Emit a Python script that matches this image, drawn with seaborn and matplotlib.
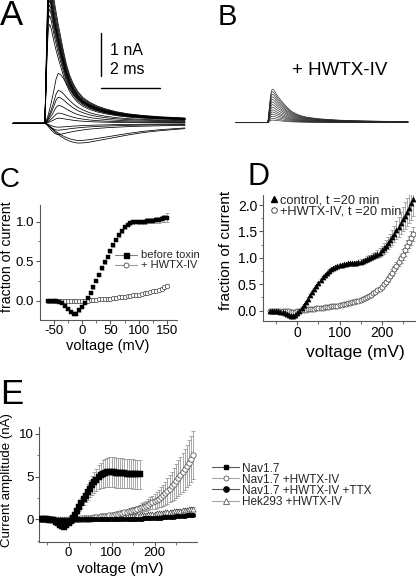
import numpy as np
import pandas as pd
import matplotlib
matplotlib.use("Agg")
import matplotlib.pyplot as plt
from matplotlib.lines import Line2D
from matplotlib.ticker import MultipleLocator
import seaborn as sns

# ---------------- data ----------------
# Panels A/B: whole-cell current traces (time in ms, normalised waveform shapes)
trace_t = [0, 1.08, 1.11, 1.14, 1.17, 1.20, 1.23, 1.26, 1.30, 1.35, 1.40, 1.46, 1.53, 1.61,
           1.70, 1.80, 1.92, 2.05, 2.2, 2.38, 2.6, 2.85, 3.15, 3.5, 3.9, 4.4, 5.0, 5.83]
fast_shape = [0, 0, 0.25, 0.55, 0.8, 0.95, 1.0, 0.99, 0.95, 0.88, 0.81, 0.74, 0.66, 0.58,
              0.49, 0.40, 0.32, 0.26, 0.21, 0.17, 0.14, 0.115, 0.095, 0.077, 0.063, 0.052, 0.043, 0.035]
slow_shape = [0, 0, 0.03, 0.07, 0.12, 0.18, 0.25, 0.32, 0.42, 0.55, 0.7, 0.88, 0.99, 0.97,
              0.9, 0.8, 0.69, 0.58, 0.48, 0.4, 0.32, 0.26, 0.21, 0.17, 0.14, 0.12, 0.1, 0.08]
inward_early = [0, 0, 0.05, 0.12, 0.2, 0.3, 0.4, 0.5, 0.62, 0.75, 0.87, 0.96, 1.0, 0.98,
                0.93, 0.87, 0.8, 0.73, 0.66, 0.59, 0.52, 0.46, 0.4, 0.35, 0.3, 0.26, 0.22, 0.19]
inward_late = [0, 0, 0.02, 0.05, 0.08, 0.12, 0.16, 0.2, 0.26, 0.33, 0.4, 0.48, 0.56, 0.65,
               0.74, 0.82, 0.9, 0.96, 1.0, 0.99, 0.95, 0.88, 0.8, 0.7, 0.59, 0.47, 0.37, 0.27]
a_fast_amp = [3.5, 3.35, 3.2, 3.1, 3.0, 2.95, 2.9, 2.85, 2.75, 2.65, 2.5, 2.3]
a_slow_amp = [1.17, 0.77, 0.61, 0.42, 0.24, 0.12]
a_in_early_amp = [-0.09, -0.16, -0.26]
a_in_late_amp = [-0.40, -0.46]
b_amp = [0.78, 0.72, 0.66, 0.6, 0.54, 0.48, 0.42, 0.36, 0.3, 0.25, 0.2, 0.15, 0.1, 0.06]

# Panel C: normalised I-V (mV)
c_volt = np.arange(-60, 151, 5)
c_before = [0, 0, 0, 0, -0.01, -0.03, -0.06, -0.10, -0.14, -0.16, -0.16, -0.12, -0.07, -0.02,
            0.04, 0.10, 0.17, 0.25, 0.33, 0.41, 0.49, 0.56, 0.63, 0.70, 0.77, 0.83, 0.88, 0.93,
            0.96, 0.98, 0.99, 1.00, 1.00, 1.00, 1.00, 1.01, 1.01, 1.01, 1.02, 1.02, 1.03, 1.04, 1.05]
c_before_err = [0.005, 0.005, 0.005, 0.005, 0.005, 0.01, 0.01, 0.01, 0.015, 0.015, 0.015, 0.015,
                0.01, 0.01, 0.01, 0.01, 0.015, 0.015, 0.015, 0.02, 0.02, 0.02, 0.02, 0.02, 0.02,
                0.02, 0.02, 0.02, 0.02, 0.02, 0.02, 0.02, 0.025, 0.025, 0.025, 0.03, 0.03, 0.03,
                0.035, 0.035, 0.04, 0.05, 0.06]
c_toxin = [0, 0, 0, 0, 0, 0, 0, 0, 0, 0, 0, 0, 0, 0,
           0.005, 0.01, 0.01, 0.015, 0.02, 0.02, 0.025, 0.03, 0.03, 0.035, 0.04, 0.045, 0.05,
           0.055, 0.06, 0.065, 0.07, 0.075, 0.08, 0.09, 0.1, 0.105, 0.11, 0.12, 0.13, 0.14,
           0.155, 0.17, 0.19]
c_toxin_err = [0.005, 0.005, 0.005, 0.005, 0.005, 0.005, 0.005, 0.005, 0.005, 0.005, 0.005,
               0.005, 0.005, 0.005, 0.005, 0.005, 0.005, 0.005, 0.005, 0.005, 0.005, 0.005,
               0.005, 0.005, 0.005, 0.005, 0.005, 0.005, 0.005, 0.005, 0.01, 0.01, 0.01, 0.01,
               0.01, 0.01, 0.01, 0.01, 0.01, 0.015, 0.015, 0.015, 0.02]

# Panel D: normalised I-V at t = 20 min (mV)
d_volt = np.arange(-65, 276, 5)
d_control = [0.0, 0.0, 0.0, 0.0, -0.01, -0.02, -0.03, -0.05, -0.07, -0.09,
             -0.10, -0.10, -0.08, -0.04, 0.0, 0.05, 0.11, 0.17, 0.23, 0.29,
             0.35, 0.41, 0.47, 0.52, 0.58, 0.63, 0.68, 0.72, 0.76, 0.79,
             0.81, 0.83, 0.85, 0.86, 0.87, 0.88, 0.89, 0.90, 0.90, 0.90,
             0.90, 0.91, 0.92, 0.93, 0.94, 0.96, 0.98, 1.00, 1.01, 1.03,
             1.05, 1.07, 1.10, 1.14, 1.18, 1.23, 1.28, 1.33, 1.39, 1.45,
             1.52, 1.59, 1.66, 1.73, 1.80, 1.87, 1.95, 2.03, 2.12]
d_control_err = [0.02, 0.02, 0.02, 0.02, 0.02, 0.02, 0.02, 0.02, 0.02, 0.02,
                 0.02, 0.02, 0.02, 0.02, 0.02, 0.02, 0.02, 0.02, 0.02, 0.02,
                 0.02, 0.02, 0.02, 0.02, 0.02, 0.02, 0.02, 0.02, 0.02, 0.02,
                 0.02, 0.02, 0.02, 0.02, 0.02, 0.02, 0.02, 0.02, 0.02, 0.02,
                 0.03, 0.03, 0.03, 0.04, 0.04, 0.04, 0.05, 0.05, 0.05, 0.06,
                 0.06, 0.07, 0.08, 0.09, 0.10, 0.11, 0.12, 0.13, 0.14, 0.15,
                 0.17, 0.19, 0.21, 0.23, 0.25, 0.27, 0.29, 0.31, 0.33]
d_toxin = [0.0, 0.0, 0.0, 0.0, 0.0, 0.0, 0.0, 0.0, 0.0, -0.01,
           -0.02, -0.02, -0.02, -0.01, 0.0, 0.01, 0.015, 0.02, 0.025, 0.03,
           0.035, 0.04, 0.045, 0.05, 0.055, 0.06, 0.065, 0.07, 0.075, 0.08,
           0.085, 0.09, 0.095, 0.10, 0.11, 0.12, 0.13, 0.14, 0.15, 0.16,
           0.17, 0.18, 0.19, 0.20, 0.22, 0.24, 0.26, 0.28, 0.30, 0.33,
           0.36, 0.39, 0.42, 0.45, 0.50, 0.55, 0.60, 0.66, 0.72, 0.78,
           0.85, 0.92, 0.99, 1.06, 1.14, 1.22, 1.30, 1.38, 1.45]
d_toxin_err = [0.01, 0.01, 0.01, 0.01, 0.01, 0.01, 0.01, 0.01, 0.01, 0.01,
               0.01, 0.01, 0.01, 0.01, 0.01, 0.01, 0.01, 0.01, 0.01, 0.01,
               0.01, 0.01, 0.01, 0.01, 0.01, 0.01, 0.01, 0.01, 0.01, 0.01,
               0.01, 0.01, 0.01, 0.01, 0.01, 0.01, 0.01, 0.01, 0.01, 0.01,
               0.01, 0.01, 0.01, 0.01, 0.01, 0.01, 0.01, 0.01, 0.01, 0.01,
               0.02, 0.02, 0.03, 0.03, 0.04, 0.04, 0.05, 0.05, 0.06, 0.06,
               0.07, 0.08, 0.09, 0.10, 0.10, 0.11, 0.12, 0.13, 0.14]

# Panel E: current amplitude (nA)
e_volt_nav = np.arange(-65, 166, 5)
e_nav = [0, 0, 0, 0, -0.02, -0.05, -0.12, -0.25, -0.45, -0.65,
         -0.82, -0.85, -0.7, -0.42, -0.15, 0.15, 0.55, 1.0, 1.45, 1.9,
         2.35, 2.8, 3.2, 3.6, 4.0, 4.35, 4.65, 4.92, 5.15, 5.32,
         5.43, 5.5, 5.52, 5.52, 5.5, 5.48, 5.45, 5.43, 5.4, 5.38,
         5.36, 5.35, 5.33, 5.32, 5.31, 5.3, 5.3]
e_nav_err = [0.05, 0.05, 0.05, 0.05, 0.05, 0.08, 0.1, 0.12, 0.15, 0.18, 0.2, 0.22, 0.2,
             0.15, 0.12, 0.15, 0.25, 0.4, 0.5, 0.6, 0.7, 0.8, 0.9,
             1.0, 1.1, 1.2, 1.3, 1.4, 1.5, 1.6, 1.65, 1.7, 1.75,
             1.75, 1.75, 1.75, 1.75, 1.75, 1.75, 1.7, 1.7, 1.7, 1.7, 1.7, 1.7, 1.7, 1.7]
e_volt = np.arange(-65, 291, 5)
e_hwtx = [0, 0, 0, 0, 0, 0, 0, -0.02, -0.03, -0.04,
          -0.04, -0.03, -0.02, 0, 0.02, 0.04, 0.06, 0.08, 0.1, 0.12,
          0.14, 0.16, 0.18, 0.2, 0.23, 0.26, 0.29, 0.32, 0.35, 0.38,
          0.41, 0.45, 0.49, 0.53, 0.57, 0.61, 0.66, 0.71, 0.76, 0.82,
          0.88, 0.94, 1.0, 1.07, 1.14, 1.22, 1.3, 1.4, 1.5, 1.62,
          1.75, 1.88, 2.0, 2.12, 2.27, 2.43, 2.62, 2.83, 3.07, 3.33,
          3.6, 3.88, 4.17, 4.47, 4.8, 5.15, 5.5, 5.87, 6.25, 6.65,
          7.05, 7.5]
e_hwtx_err = [0.03, 0.03, 0.03, 0.03, 0.03, 0.03, 0.03, 0.03, 0.03, 0.03,
              0.03, 0.03, 0.03, 0.03, 0.03, 0.03, 0.03, 0.03, 0.03, 0.03,
              0.03, 0.03, 0.03, 0.03, 0.03, 0.03, 0.03, 0.03, 0.03, 0.03,
              0.1, 0.1, 0.12, 0.12, 0.14, 0.15, 0.17, 0.19, 0.21, 0.23, 0.25, 0.28, 0.31, 0.34,
              0.37, 0.4, 0.44, 0.48, 0.53, 0.58, 0.64, 0.7, 0.77, 0.85, 0.93, 1.02, 1.12, 1.23,
              1.35, 1.47, 1.6, 1.73, 1.86, 1.98, 2.1, 2.2, 2.3, 2.4, 2.5, 2.6, 2.7, 2.8]
e_ttx = [0, 0, 0, 0, 0, 0, 0, -0.02,
         -0.03, -0.04, -0.05, -0.05, -0.04, -0.03, -0.02, -0.01, 0, 0,
         0, 0, 0, 0, 0, 0.01, 0.01, 0.01, 0.02, 0.02,
         0.02, 0.02, 0.03, 0.03, 0.03, 0.03, 0.04, 0.04, 0.04, 0.05,
         0.05, 0.05, 0.06, 0.06, 0.07, 0.07, 0.08, 0.09, 0.1, 0.11,
         0.12, 0.13, 0.14, 0.15, 0.17, 0.18, 0.2, 0.21, 0.23, 0.24,
         0.26, 0.28, 0.3, 0.32, 0.34, 0.36, 0.38, 0.4, 0.42, 0.45,
         0.48, 0.51, 0.54, 0.57]
e_ttx_err = [0.03, 0.03, 0.03, 0.03, 0.03, 0.03, 0.03, 0.03, 0.03, 0.03,
             0.03, 0.03, 0.03, 0.03, 0.03, 0.03, 0.03, 0.03, 0.03, 0.03,
             0.03, 0.03, 0.03, 0.03, 0.03, 0.03, 0.03, 0.03, 0.03, 0.03,
             0.03, 0.03, 0.03, 0.03, 0.03, 0.03, 0.03, 0.03, 0.03, 0.03,
             0.04, 0.04, 0.04, 0.05, 0.05, 0.05, 0.06, 0.06, 0.06, 0.07,
             0.07, 0.07, 0.08, 0.08, 0.08, 0.09, 0.09, 0.09, 0.1, 0.1,
             0.1, 0.11, 0.11, 0.11, 0.12, 0.12, 0.13, 0.13, 0.14, 0.14,
             0.15, 0.15]
e_hek = [0.02, 0.02, 0.02, 0.02, 0.02, 0.01, 0.01, 0.0, 0.0, 0.0,
         0.0, 0.0, 0.0, 0.0, 0.01, 0.02, 0.03, 0.05, 0.06, 0.07,
         0.08, 0.09, 0.1, 0.11, 0.12, 0.14, 0.15, 0.16, 0.18, 0.19,
         0.2, 0.22, 0.23, 0.25, 0.27, 0.28, 0.3, 0.32, 0.34, 0.36,
         0.38, 0.4, 0.42, 0.44, 0.46, 0.48, 0.5, 0.53, 0.55, 0.57,
         0.6, 0.62, 0.65, 0.67, 0.7, 0.73, 0.76, 0.79, 0.82, 0.85,
         0.88, 0.91, 0.94, 0.97, 1.0, 1.04, 1.07, 1.1, 1.14, 1.18,
         1.22, 1.26]
e_hek_err = [0.04, 0.04, 0.04, 0.04, 0.04, 0.04, 0.04, 0.04, 0.04, 0.04,
             0.04, 0.04, 0.04, 0.04, 0.04, 0.04, 0.04, 0.04, 0.04, 0.04,
             0.05, 0.05, 0.05, 0.05, 0.05, 0.05, 0.05, 0.05, 0.05, 0.05,
             0.06, 0.06, 0.06, 0.06, 0.06, 0.07, 0.07, 0.07, 0.07, 0.07,
             0.08, 0.08, 0.08, 0.08, 0.09, 0.09, 0.09, 0.1, 0.1, 0.1,
             0.11, 0.11, 0.12, 0.12, 0.13, 0.13, 0.14, 0.14, 0.15, 0.15,
             0.16, 0.16, 0.17, 0.17, 0.18, 0.18, 0.19, 0.19, 0.2, 0.2,
             0.21, 0.21]

c_labels = ["before toxin", "+ HWTX-IV"]
d_labels = ["control, t =20 min", "+HWTX-IV, t =20 min"]
e_labels = ["Nav1.7", "Nav1.7 +HWTX-IV", "Nav1.7 +HWTX-IV +TTX", "Hek293 +HWTX-IV"]

# ---------------- figure ----------------
sns.set_theme(style="ticks")
plt.rcParams["font.family"] = ["Liberation Sans", "DejaVu Sans"]
plt.rcParams["axes.unicode_minus"] = False

W, H = 416, 577
fig = plt.figure(figsize=(W / 100, H / 100), dpi=100)
fig.patch.set_facecolor("white")


def box(l, t, r, b):
    return [l / W, 1 - b / H, (r - l) / W, (b - t) / H]


def ftext(x, y, s, size, **kw):
    fig.text(x / W, 1 - y / H, s, fontsize=size, color="black", **kw)


def traces_frame(groups):
    rows = []
    uid = 0
    for amps, shape in groups:
        for a in amps:
            for t, v in zip(trace_t, shape):
                rows.append((uid, t, a * v))
            uid += 1
    return pd.DataFrame(rows, columns=["trace", "t", "I"])


# Panel A
axA = fig.add_axes(box(10, 0, 190, 150))
dfA = traces_frame([(a_in_late_amp, inward_late), (a_in_early_amp, inward_early),
                    (a_slow_amp, slow_shape), (a_fast_amp, fast_shape)])
sns.lineplot(data=dfA, x="t", y="I", units="trace", estimator=None, color="black",
             lw=0.55, ax=axA, legend=False, sort=True)
axA.set_xlim(-0.1017, 6.0)
axA.set_ylim(-0.621, 2.867)
axA.axis("off")
axA.plot([2.983, 2.983], [1.1, 2.1], color="black", lw=1.0)
axA.plot([2.983, 4.983], [0.814, 0.814], color="black", lw=1.0)
ftext(110, 55, "1 nA", 11.5, va="baseline")
ftext(110, 73.5, "2 ms", 11.5, va="baseline")

# Panel B
axB = fig.add_axes(box(233, 0, 413, 150))
dfB = traces_frame([(b_amp, fast_shape)])
sns.lineplot(data=dfB, x="t", y="I", units="trace", estimator=None, color="0.15",
             lw=0.45, ax=axB, legend=False, sort=True)
axB.set_xlim(-0.1017, 6.0)
axB.set_ylim(-0.635, 2.853)
axB.axis("off")
ftext(292, 75, "+ HWTX-IV", 13.5, va="baseline")


def style_axis(ax, xlim, ylim, xmaj, xmin, ymaj, ymin, tsize):
    ax.set_xlim(xlim)
    ax.set_ylim(ylim)
    ax.xaxis.set_major_locator(MultipleLocator(xmaj))
    ax.xaxis.set_minor_locator(MultipleLocator(xmin))
    ax.yaxis.set_major_locator(MultipleLocator(ymaj))
    ax.yaxis.set_minor_locator(MultipleLocator(ymin))
    sns.despine(ax=ax)
    for s in ["left", "bottom"]:
        ax.spines[s].set_linewidth(0.8)
        ax.spines[s].set_color("0.35")
    ax.tick_params(which="major", direction="out", length=3, width=0.8, color="0.35",
                   labelsize=tsize, labelcolor="black")
    ax.tick_params(axis="x", which="major", pad=0.5)
    ax.tick_params(axis="y", which="major", pad=1.2)
    ax.tick_params(which="minor", direction="out", length=1.8, width=0.6, color="0.35")
    ax.set_xlabel("")
    ax.set_ylabel("")
    ax.set_facecolor("none")


def errbars(ax, x, y, e, z=1):
    ax.errorbar(x, y, yerr=e, fmt="none", ecolor="0.6", elinewidth=0.6, capsize=1.3,
                capthick=0.6, zorder=z)


def scat(ax, x, y, marker, s, face, edge, lw, z):
    sns.scatterplot(x=x, y=y, marker=marker, s=s, color=face, edgecolor=edge, linewidth=lw,
                    ax=ax, zorder=z, legend=False)


# Panel C
axC = fig.add_axes(box(40, 205, 177, 320))
errbars(axC, c_volt, c_toxin, c_toxin_err)
errbars(axC, c_volt, c_before, c_before_err)
scat(axC, c_volt, c_toxin, "o", 10, "white", "0.25", 0.5, 3)
scat(axC, c_volt, c_before, "s", 10, "black", "black", 0.3, 4)
style_axis(axC, (-74, 167), (-0.24, 1.21), 50, 25, 0.5, 0.25, 9.5)
hC = [Line2D([], [], color="0.5", lw=0.8, marker="s", ms=3.6, mfc="black", mec="black"),
      Line2D([], [], color="0.6", lw=0.8, marker="o", ms=3.6, mfc="white", mec="0.3", mew=0.6)]
axC.legend(hC, c_labels, loc="upper left", bbox_to_anchor=(115 / W, 1 - 250.5 / H),
           bbox_transform=fig.transFigure, frameon=False, fontsize=8, handlelength=2.0,
           handletextpad=0.35, labelspacing=0.0, borderpad=0, borderaxespad=0)
ftext(7, 257, "fraction of current", 10.2, rotation=90, ha="center", va="center")
ftext(108, 346, "voltage (mV)", 10.5, ha="center", va="center")

# Panel D
axD = fig.add_axes(box(263, 195, 415, 321))
errbars(axD, d_volt, d_toxin, d_toxin_err)
errbars(axD, d_volt, d_control, d_control_err)
scat(axD, d_volt, d_toxin, "o", 13, "white", "0.2", 0.5, 3)
scat(axD, d_volt, d_control, "^", 14, "black", "black", 0.3, 4)
style_axis(axD, (-81.3, 278.9), (-0.195, 2.19), 100, 50, 0.5, 0.25, 10)
hD = [Line2D([], [], ls="none", marker="^", ms=4.2, mfc="black", mec="black"),
      Line2D([], [], ls="none", marker="o", ms=4.0, mfc="white", mec="0.2", mew=0.6)]
axD.legend(hD, d_labels, loc="upper left", bbox_to_anchor=(270 / W, 1 - 194.5 / H),
           bbox_transform=fig.transFigure, frameon=False, fontsize=9.3, handlelength=0.6,
           handletextpad=0.15, labelspacing=-0.12, borderpad=0, borderaxespad=0)
ftext(226, 250, "fraction of current", 11, rotation=90, ha="center", va="center")
ftext(355, 352, "voltage (mV)", 12.5, ha="center", va="center")

# Panel E
axE = fig.add_axes(box(39.3, 426.7, 196.7, 541.7))
errbars(axE, e_volt, e_hek, e_hek_err)
errbars(axE, e_volt, e_ttx, e_ttx_err)
errbars(axE, e_volt, e_hwtx, e_hwtx_err)
errbars(axE, e_volt_nav, e_nav, e_nav_err)
scat(axE, e_volt, e_hek, "^", 13, "white", "0.25", 0.5, 3)
scat(axE, e_volt, e_hwtx, "o", 15, "white", "0.25", 0.5, 4)
scat(axE, e_volt, e_ttx, "o", 11, "black", "black", 0.3, 5)
scat(axE, e_volt_nav, e_nav, "s", 13, "black", "black", 0.3, 6)
style_axis(axE, (-68, 298), (-2.6, 10.85), 100, 50, 5, 2.5, 9.5)
hE = [Line2D([], [], color="0.35", lw=0.8, marker="s", ms=3.5, mfc="black", mec="black"),
      Line2D([], [], color="0.65", lw=0.8, marker="o", ms=3.6, mfc="white", mec="0.35", mew=0.6),
      Line2D([], [], color="0.35", lw=0.8, marker="o", ms=3.8, mfc="black", mec="black"),
      Line2D([], [], color="0.65", lw=0.8, marker="^", ms=4.0, mfc="white", mec="0.35", mew=0.6)]
axE.legend(hE, e_labels, loc="upper left", bbox_to_anchor=(212 / W, 1 - 462.5 / H),
           bbox_transform=fig.transFigure, frameon=False, fontsize=8.5, handlelength=2.3,
           handletextpad=0.25, labelspacing=-0.08, borderpad=0, borderaxespad=0)
ftext(7.5, 480, "Current amplitude (nA)", 9.5, rotation=90, ha="center", va="center")
ftext(120, 569, "voltage (mV)", 11, ha="center", va="center")

# Panel letters
ftext(0, 25, "A", 25, va="baseline")
ftext(218, 25, "B", 21, va="baseline")
ftext(0, 187, "C", 20, va="baseline")
ftext(247, 185, "D", 22, va="baseline")
ftext(0, 404, "E", 25, va="baseline")

fig.savefig("out.png", dpi=100, facecolor="white")
